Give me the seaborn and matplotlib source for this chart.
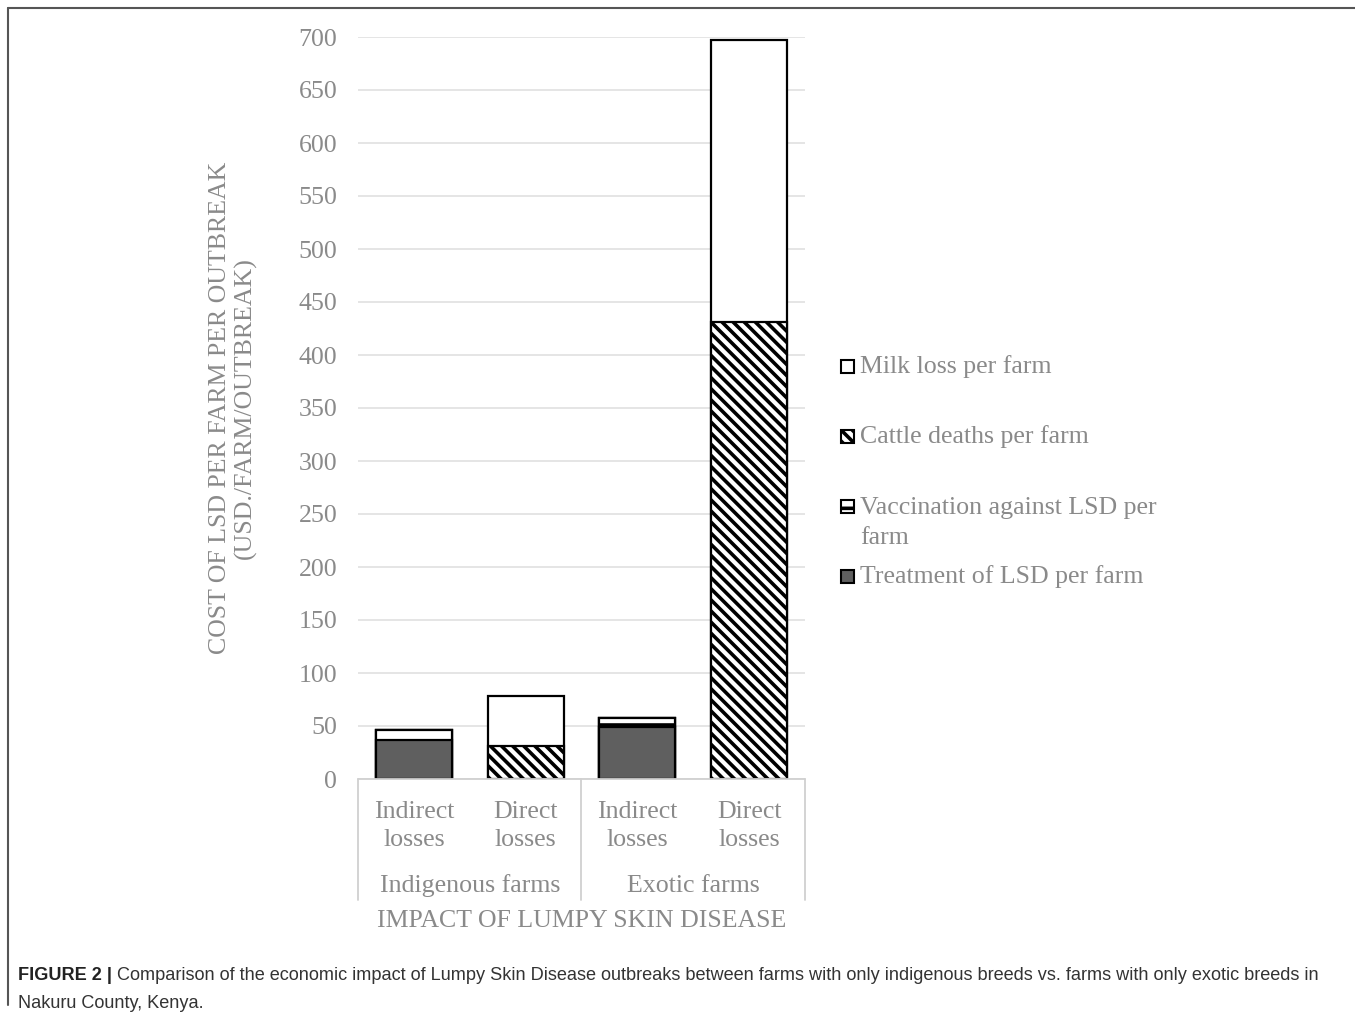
import matplotlib
matplotlib.use("Agg")
import matplotlib.pyplot as plt
from matplotlib.patches import Rectangle
from matplotlib.lines import Line2D
import seaborn as sns
import pandas as pd
import numpy as np

# ---- data ----
bar_keys = ["Indigenous-Indirect", "Indigenous-Direct", "Exotic-Indirect", "Exotic-Direct"]
tick_labels = ["Indirect\nlosses", "Direct\nlosses", "Indirect\nlosses", "Direct\nlosses"]
groups = ["Indigenous farms", "Exotic farms"]
treatment = [37, 0, 49, 0]
vaccination = [9, 0, 9, 0]
cattle_deaths = [0, 31, 0, 431]
milk_loss = [0, 47, 0, 266]
series_names = ["Milk loss per farm", "Cattle deaths per farm",
                "Vaccination against LSD per\nfarm", "Treatment of LSD per farm"]

sns.set_theme(style="white")
plt.rcParams['font.family'] = ['Liberation Serif', 'DejaVu Serif']
plt.rcParams['hatch.linewidth'] = 2.6
TXT = "#8a8a8a"
GRID = "#e3e3e3"
DARK = "#5f5f5f"
FS = 18.6

W, H = 1355, 1017
fig = plt.figure(figsize=(W / 100, H / 100), dpi=100)
ax = fig.add_axes([358 / W, 1 - 779 / H, (805 - 358) / W, (779 - 37) / H])

df = pd.DataFrame({"key": bar_keys,
                   "t": treatment, "v": vaccination,
                   "c": cattle_deaths, "m": milk_loss})
df["lvl1"] = df["t"]
df["lvl2"] = df["t"] + df["v"]
df["lvl3"] = df["lvl2"] + df["c"]
df["lvl4"] = df["lvl3"] + df["m"]

layers = [("lvl4", "white", ""), ("lvl3", "white", "\\\\\\"),
          ("lvl2", "white", "-"), ("lvl1", DARK, "")]
for col, fc, hatch in layers:
    sub = df[df[col] > 0]
    sns.barplot(data=sub, x="key", y=col, order=bar_keys, ax=ax, color=fc,
                width=0.68, edgecolor="black", linewidth=1.6, hatch=hatch,
                saturation=1, errorbar=None)

ax.set_ylim(0, 700)
ax.set_xlim(-0.5, 3.5)
ax.set_yticks(np.arange(0, 701, 50))
ax.yaxis.grid(True, color=GRID, linewidth=1.3)
ax.set_axisbelow(True)
for s in ["top", "right", "left", "bottom"]:
    ax.spines[s].set_visible(False)
ax.tick_params(axis="y", length=0, pad=15, labelsize=FS, labelcolor=TXT)
ax.set_xticks(range(4))
ax.set_xticklabels(tick_labels, fontsize=FS, color=TXT, linespacing=1.35)
ax.tick_params(axis="x", length=0, pad=16)
ax.set_xlabel("")
ax.set_ylabel("COST OF LSD PER FARM PER OUTBREAK\n(USD./FARM/OUTBREAK)",
              fontsize=FS, color=TXT, labelpad=30, linespacing=1.15)

# multi-level category box
trans = ax.get_xaxis_transform()
box_bottom = -(900 - 779) / (779 - 37)
ax.plot([-0.5, 3.5], [0, 0], transform=trans, color="#d0d0d0", lw=1.3, clip_on=False)
for xv in [-0.5, 1.5, 3.5]:
    ax.plot([xv, xv], [0, box_bottom], transform=trans, color="#d0d0d0", lw=1.3, clip_on=False)
grp_y = -(886 - 779) / (779 - 37)
for i, g in enumerate(groups):
    ax.text(0.5 + 2 * i, grp_y, g, transform=trans, ha="center", va="center",
            fontsize=FS, color=TXT)
ax.text(1.5, -(921 - 779) / (779 - 37), "IMPACT OF LUMPY SKIN DISEASE", transform=trans,
        ha="center", va="center", fontsize=FS, color=TXT)

# legend (drawn like the Excel legend)
leg_items = [(367, "white", "", series_names[0]),
             (437, "white", "\\\\\\", series_names[1]),
             (507, "white", "-", series_names[2]),
             (577, DARK, "", series_names[3])]
for yc, fc, hatch, lab in leg_items:
    r = Rectangle((841 / W, 1 - (yc + 6) / H), 13 / W, 13 / H, transform=fig.transFigure,
                  facecolor=fc, edgecolor="black", linewidth=1.5, hatch=hatch)
    fig.patches.append(r)
    if "\n" in lab:
        fig.text(860 / W, 1 - (yc - 10) / H, lab, ha="left", va="top",
                 fontsize=FS, color=TXT, linespacing=1.45)
    else:
        fig.text(860 / W, 1 - yc / H, lab, ha="left", va="center",
                 fontsize=FS, color=TXT)

# outer frame
fig.add_artist(Line2D([8 / W, 1], [1 - 8 / H, 1 - 8 / H], color="#555555", lw=1.5,
                      transform=fig.transFigure))
fig.add_artist(Line2D([8 / W, 8 / W], [1 - 8 / H, 1 - 1005 / H], color="#555555", lw=1.5,
                      transform=fig.transFigure))

# caption
cap_font = ['Liberation Sans', 'DejaVu Sans']
CFS = 13.1
t1 = fig.text(18 / W, 1 - 975 / H, "FIGURE 2 |", fontsize=CFS, fontweight="bold",
              color="#222222", family=cap_font, va="center", ha="left")
fig.canvas.draw()
bb = t1.get_window_extent()
fig.text(bb.x1 / W + 5 / W, 1 - 975 / H,
         "Comparison of the economic impact of Lumpy Skin Disease outbreaks between farms with only indigenous breeds vs. farms with only exotic breeds in",
         fontsize=CFS, color="#333333", family=cap_font, va="center", ha="left")
fig.text(18 / W, 1 - 1003 / H, "Nakuru County, Kenya.", fontsize=CFS, color="#333333",
         family=cap_font, va="center", ha="left")

fig.savefig("out.png", dpi=100)
